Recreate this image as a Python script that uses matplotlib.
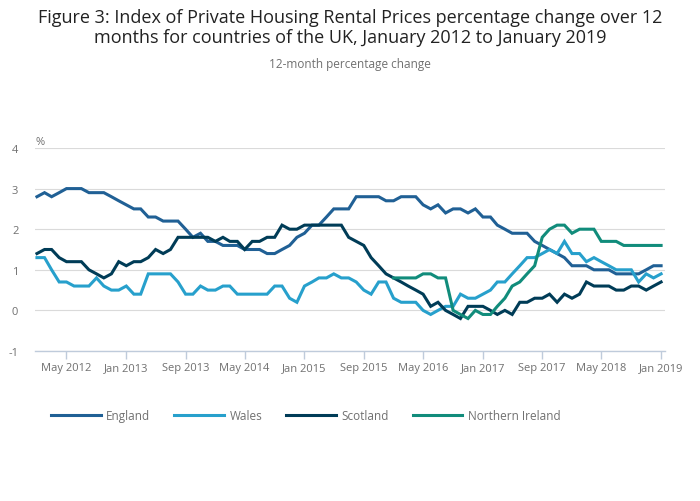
import matplotlib
matplotlib.use("Agg")
import matplotlib.pyplot as plt
import pandas as pd

ENG_C, WAL_C, SCO_C, NI_C = "#206095", "#27a0cc", "#003c57", "#118c7b"
GRID, AXIS, TICKTXT = "#dadada", "#bfcbdb", "#707070"

plt.rcParams["font.family"] = ["Open Sans", "DejaVu Sans"]

months = pd.date_range("2012-01-01", periods=85, freq="MS")

england = [2.8, 2.9, 2.8, 2.9, 3.0, 3.0, 3.0, 2.9, 2.9, 2.9, 2.8, 2.7,
           2.6, 2.5, 2.5, 2.3, 2.3, 2.2, 2.2, 2.2, 2.0, 1.8, 1.9, 1.7,
           1.7, 1.6, 1.6, 1.6, 1.5, 1.5, 1.5, 1.4, 1.4, 1.5, 1.6, 1.8,
           1.9, 2.1, 2.1, 2.3, 2.5, 2.5, 2.5, 2.8, 2.8, 2.8, 2.8, 2.7,
           2.7, 2.8, 2.8, 2.8, 2.6, 2.5, 2.6, 2.4, 2.5, 2.5, 2.4, 2.5,
           2.3, 2.3, 2.1, 2.0, 1.9, 1.9, 1.9, 1.7, 1.6, 1.5, 1.4, 1.3,
           1.1, 1.1, 1.1, 1.0, 1.0, 1.0, 0.9, 0.9, 0.9, 0.9, 1.0, 1.1, 1.1]

wales = [1.3, 1.3, 1.0, 0.7, 0.7, 0.6, 0.6, 0.6, 0.8, 0.6, 0.5, 0.5,
         0.6, 0.4, 0.4, 0.9, 0.9, 0.9, 0.9, 0.7, 0.4, 0.4, 0.6, 0.5,
         0.5, 0.6, 0.6, 0.4, 0.4, 0.4, 0.4, 0.4, 0.6, 0.6, 0.3, 0.2,
         0.6, 0.7, 0.8, 0.8, 0.9, 0.8, 0.8, 0.7, 0.5, 0.4, 0.7, 0.7,
         0.3, 0.2, 0.2, 0.2, 0.0, -0.1, 0.0, 0.1, 0.1, 0.4, 0.3, 0.3,
         0.4, 0.5, 0.7, 0.7, 0.9, 1.1, 1.3, 1.3, 1.4, 1.5, 1.4, 1.7,
         1.4, 1.4, 1.2, 1.3, 1.2, 1.1, 1.0, 1.0, 1.0, 0.7, 0.9, 0.8, 0.9]

scotland = [1.4, 1.5, 1.5, 1.3, 1.2, 1.2, 1.2, 1.0, 0.9, 0.8, 0.9, 1.2,
            1.1, 1.2, 1.2, 1.3, 1.5, 1.4, 1.5, 1.8, 1.8, 1.8, 1.8, 1.8,
            1.7, 1.8, 1.7, 1.7, 1.5, 1.7, 1.7, 1.8, 1.8, 2.1, 2.0, 2.0,
            2.1, 2.1, 2.1, 2.1, 2.1, 2.1, 1.8, 1.7, 1.6, 1.3, 1.1, 0.9,
            0.8, 0.7, 0.6, 0.5, 0.4, 0.1, 0.2, 0.0, -0.1, -0.2, 0.1, 0.1,
            0.1, 0.0, -0.1, 0.0, -0.1, 0.2, 0.2, 0.3, 0.3, 0.4, 0.2, 0.4,
            0.3, 0.4, 0.7, 0.6, 0.6, 0.6, 0.5, 0.5, 0.6, 0.6, 0.5, 0.6, 0.7]

# Northern Ireland series begins January 2016
ni = [None] * 48 + [
    0.8, 0.8, 0.8, 0.8, 0.9, 0.9, 0.8, 0.8, 0.0, -0.1, -0.2, 0.0,
    -0.1, -0.1, 0.1, 0.3, 0.6, 0.7, 0.9, 1.1, 1.8, 2.0, 2.1, 2.1,
    1.9, 2.0, 2.0, 2.0, 1.7, 1.7, 1.7, 1.6, 1.6, 1.6, 1.6, 1.6, 1.6]

series = [("England", england, ENG_C), ("Wales", wales, WAL_C),
          ("Scotland", scotland, SCO_C), ("Northern Ireland", ni, NI_C)]

fig = plt.figure(figsize=(7.0, 5.02), dpi=100)
ax = fig.add_axes([0.05, 0.2988, 0.9, 0.4044])

for name, vals, c in series:
    s = pd.Series(vals, index=months, dtype=float)
    ax.plot(s.index, s.values, color=c, linewidth=2.2, label=name,
            solid_joinstyle="miter")

ax.set_ylim(-1, 4)
ax.set_yticks([-1, 0, 1, 2, 3, 4])
ax.set_yticklabels(["-1", "0", "1", "2", "3", "4"])
ax.set_xlim(months[0] - pd.Timedelta(days=8), months[-1] + pd.Timedelta(days=16))
ticks = months[4::8]
ax.set_xticks(ticks)
ax.set_xticklabels([d.strftime("%b %Y") for d in ticks])

ax.grid(axis="y", color=GRID, linewidth=0.8)
ax.set_axisbelow(True)
for side in ("top", "right", "left"):
    ax.spines[side].set_visible(False)
ax.spines["bottom"].set_color(AXIS)
ax.spines["bottom"].set_linewidth(1.0)
ax.tick_params(axis="y", length=0, pad=12, labelsize=8, labelcolor=TICKTXT)
ax.tick_params(axis="x", length=6, width=1.0, color=AXIS, pad=2,
               labelsize=8, labelcolor=TICKTXT)

ax.text(0.0, 1.005, "%", transform=ax.transAxes, fontsize=8, color=TICKTXT,
        ha="left", va="bottom")

fig.text(0.5, 0.982, "Figure 3: Index of Private Housing Rental Prices percentage change over 12\n"
         "months for countries of the UK, January 2012 to January 2019",
         ha="center", va="top", fontsize=13, color="#222222", linespacing=1.15)
fig.text(0.5, 0.871, "12-month percentage change", ha="center", va="center",
         fontsize=8.5, color=TICKTXT)

fig.legend(loc="center left", bbox_to_anchor=(0.058, 0.171), ncol=4, frameon=False,
           handlelength=4.2, handletextpad=0.45, columnspacing=2.05,
           fontsize=8.5, labelcolor=TICKTXT)

fig.savefig("out.png", dpi=100, facecolor="white")
